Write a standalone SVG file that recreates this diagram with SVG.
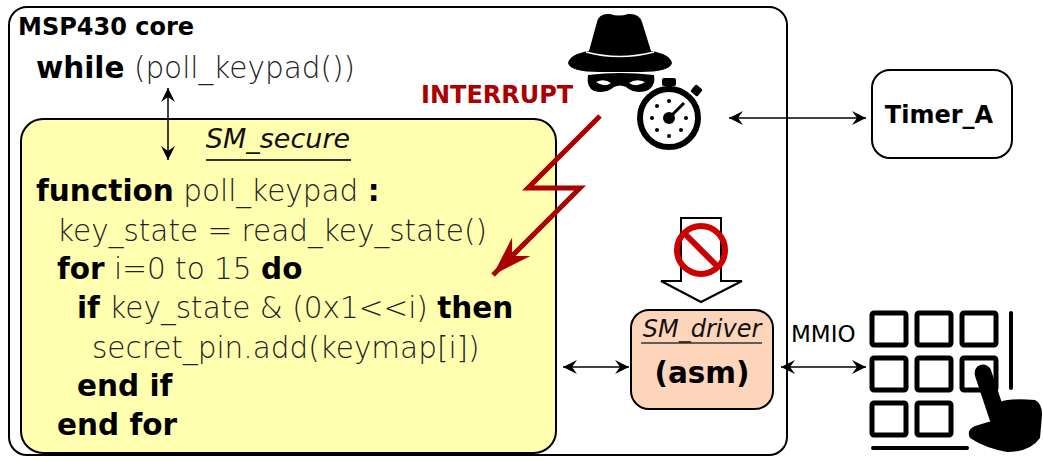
<svg xmlns="http://www.w3.org/2000/svg" width="1043" height="461" viewBox="0 0 1043 461">
  <style>
    .box { stroke: #000; stroke-width: 2; }
    .bold { font-family: "DejaVu Sans", sans-serif; font-weight: bold; fill: #000; }
    .code { font-family: "DejaVu Sans", sans-serif; font-weight: 200; fill: #222; }
    .ital { font-family: "DejaVu Sans", sans-serif; font-style: italic; fill: #111; }
    .conn { stroke: #000; stroke-width: 1.5; fill: none; }
    .key { fill: none; stroke: #000; stroke-width: 5; }
  </style>
  <defs>
    <marker id="head" viewBox="-16 -8 18 16" markerWidth="18" markerHeight="16" refX="0" refY="0" orient="auto-start-reverse" markerUnits="userSpaceOnUse">
      <path d="M0,0 L-14,-7 L-9,0 L-14,7 Z" fill="#000"/>
    </marker>
    <marker id="redhead" viewBox="-42 -15 44 30" markerWidth="44" markerHeight="30" refX="0" refY="0" orient="auto" markerUnits="userSpaceOnUse">
      <path d="M0,0 L-40,-13 L-27,0 L-40,13 Z" fill="#aa0000"/>
    </marker>
  </defs>

  <!-- MSP430 core -->
  <g id="msp430-core">
    <rect class="box" x="9" y="7" width="778" height="448" rx="18" fill="#fff"/>
    <text class="bold" x="18" y="35" font-size="24">MSP430 core</text>
    <text x="36" y="78" font-size="29.5"><tspan class="bold">while</tspan><tspan class="code"> (poll_keypad())</tspan></text>
  </g>

  <!-- SM_secure -->
  <g id="sm-secure">
    <rect class="box" x="21" y="119" width="535" height="334" rx="22" fill="#ffffaf"/>
    <text class="ital" x="278" y="148" font-size="27" text-anchor="middle">SM_secure</text>
    <line x1="206" y1="160" x2="351" y2="160" stroke="#333" stroke-width="2"/>
    <g font-size="29.5">
      <text x="36" y="201"><tspan class="bold">function</tspan><tspan class="code"> poll_keypad </tspan><tspan class="bold">:</tspan></text>
      <text class="code" x="57" y="241">key_state = read_key_state()</text>
      <text x="57" y="279"><tspan class="bold">for</tspan><tspan class="code"> i=0 to 15 </tspan><tspan class="bold">do</tspan></text>
      <text x="77" y="318"><tspan class="bold">if</tspan><tspan class="code"> key_state &amp; (0x1&lt;&lt;i) </tspan><tspan class="bold">then</tspan></text>
      <text class="code" x="92" y="358">secret_pin.add(keymap[i])</text>
      <text class="bold" x="77" y="396">end if</text>
      <text class="bold" x="57" y="435">end for</text>
    </g>
  </g>

  <!-- Attacker with stopwatch -->
  <g id="attacker">
    <path d="M597,22 Q599,13 610,14 Q619,17 628,14 Q639,13 642,22 L651,51 Q670,54 672,63 Q670,72 640,72 L600,72 Q570,72 568,63 Q570,54 589,51 Z" fill="#000"/>
    <path d="M586,52 Q619,61 654,52" stroke="#fff" stroke-width="1.5" fill="none"/>
    <path d="M588,75 Q620,71 654,75 Q656,87 646,91 Q634,94 626,87 Q620,84 614,87 Q606,94 594,91 Q586,87 588,75 Z" fill="#000"/>
    <path d="M596,82 Q604,78 611,83 Q604,88 596,82 Z M629,83 Q636,78 645,82 Q637,88 629,83 Z" fill="#fff"/>
  </g>
  <g id="stopwatch">
    <circle cx="669" cy="118" r="29" fill="#fff" stroke="#000" stroke-width="6"/>
    <rect x="666" y="84" width="6" height="8" fill="#000"/>
    <rect x="662" y="78" width="14" height="8" rx="2" fill="#000"/>
    <rect x="692" y="86" width="9" height="9" rx="1.5" fill="#000" transform="rotate(40 696.5 90.5)"/>
    <circle cx="669" cy="118" r="6" fill="#000"/>
    <line x1="669" y1="118" x2="684" y2="103" stroke="#000" stroke-width="3"/>
    <g fill="#000">
      <circle cx="669" cy="101" r="2"/><circle cx="669" cy="136" r="2"/>
      <circle cx="652" cy="118" r="2"/><circle cx="686" cy="118" r="2"/>
      <circle cx="657" cy="106" r="2"/><circle cx="681" cy="130" r="2"/>
      <circle cx="657" cy="130" r="2"/>
    </g>
  </g>

  <!-- INTERRUPT -->
  <g id="interrupt">
    <text x="421" y="103" font-family="DejaVu Sans, sans-serif" font-weight="bold" font-size="24" fill="#aa0000">INTERRUPT</text>
    <polyline points="600,116 528,188 580,188 493,275" fill="none" stroke="#aa0000" stroke-width="5" marker-end="url(#redhead)"/>
  </g>

  <!-- Timer_A -->
  <g id="timer-a">
    <rect class="box" x="872" y="70" width="140" height="88" rx="18" fill="#fff"/>
    <text class="bold" x="939" y="123" font-size="24" text-anchor="middle">Timer_A</text>
  </g>

  <!-- Blocked access to driver -->
  <g id="blocked">
    <path d="M681,218 L721,218 L721,281 L742,281 L701,302 L661,281 L681,281 Z" fill="#fff" stroke="#000" stroke-width="2"/>
    <circle cx="701" cy="250" r="24" fill="none" stroke="#cc0000" stroke-width="6"/>
    <line x1="684" y1="233" x2="718" y2="267" stroke="#cc0000" stroke-width="6"/>
  </g>

  <!-- SM_driver -->
  <g id="sm-driver">
    <rect class="box" x="631" y="310" width="142" height="99" rx="18" fill="#fdd5bb"/>
    <text class="ital" x="702" y="337" font-size="24" text-anchor="middle">SM_driver</text>
    <line x1="641" y1="343" x2="762" y2="343" stroke="#333" stroke-width="1.5"/>
    <text class="bold" x="702" y="383" font-size="29.5" text-anchor="middle">(asm)</text>
  </g>

  <!-- Keypad -->
  <g id="keypad">
    <rect class="key" x="872" y="313" width="34" height="32" rx="2"/>
    <rect class="key" x="917" y="313" width="34" height="32" rx="2"/>
    <rect class="key" x="962" y="313" width="34" height="32" rx="2"/>
    <rect class="key" x="872" y="358" width="34" height="32" rx="2"/>
    <rect class="key" x="917" y="358" width="34" height="32" rx="2"/>
    <rect class="key" x="962" y="358" width="34" height="32" rx="2"/>
    <rect class="key" x="872" y="403" width="34" height="32" rx="2"/>
    <rect class="key" x="917" y="403" width="34" height="32" rx="2"/>
    <line x1="1011" y1="313" x2="1011" y2="388" stroke="#000" stroke-width="4" stroke-linecap="round"/>
    <line x1="873" y1="448" x2="967" y2="448" stroke="#000" stroke-width="4" stroke-linecap="round"/>
    <line x1="983" y1="373" x2="998" y2="418" stroke="#000" stroke-width="17" stroke-linecap="round"/>
    <path d="M970,438 Q966,430 975,426 L995,420 L1000,402 Q1010,398 1035,400 Q1042,403 1042,415 L1040,438 Q1030,452 1007,452 Q985,448 970,438 Z" fill="#000"/>
    <text x="791" y="342" font-family="DejaVu Sans, sans-serif" font-size="23" fill="#000">MMIO</text>
  </g>

  <!-- Connectors -->
  <g id="connectors">
    <line class="conn" x1="168" y1="88" x2="168" y2="160" marker-start="url(#head)" marker-end="url(#head)"/>
    <line class="conn" x1="729" y1="118" x2="866" y2="118" marker-start="url(#head)" marker-end="url(#head)"/>
    <line class="conn" x1="563" y1="367" x2="629" y2="367" marker-start="url(#head)" marker-end="url(#head)"/>
    <line class="conn" x1="781" y1="367" x2="866" y2="367" marker-start="url(#head)" marker-end="url(#head)"/>
  </g>
</svg>
